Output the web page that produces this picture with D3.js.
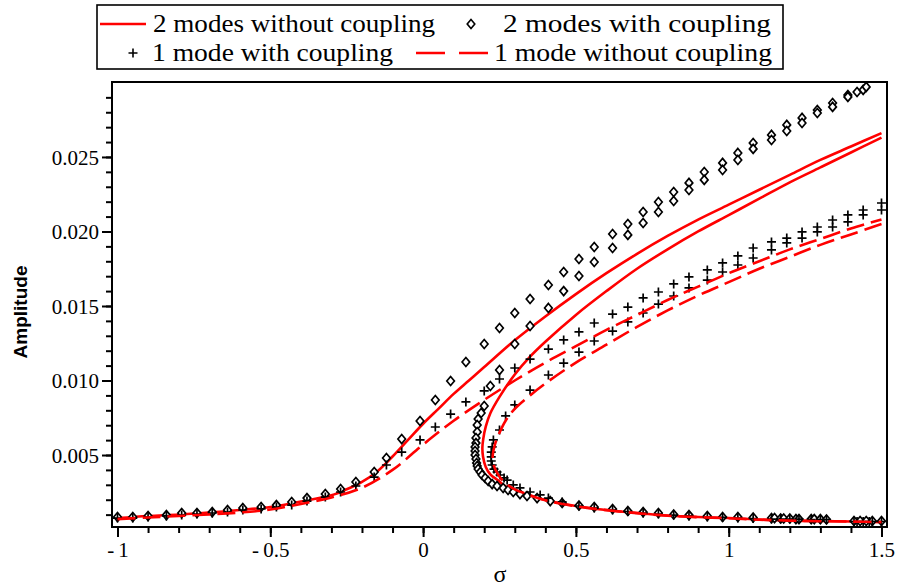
<!DOCTYPE html>
<meta charset="utf-8">
<style>
body { margin: 0; background: white; }
svg { display: block; }
.legend text { font-family: "Liberation Serif", "Times New Roman", serif; font-size: 25px; fill: black; }
</style>
<body>
<script src="https://d3js.org/d3.v7.min.js"></script>
<script>
// each series is a list of [sigma, amplitude]
var solidUpper = [[-1,0.00077],[-0.9,0.00091],[-0.8,0.00101],[-0.7,0.00114],[-0.6,0.00131],[-0.5,0.00151],
  [-0.4,0.00188],[-0.3,0.0023],[-0.25,0.0027],[-0.2,0.0032],[-0.15,0.0039],[-0.1,0.0049],[-0.05,0.0060],
  [0,0.0071],[0.05,0.0081],[0.1,0.0091],[0.15,0.0100],[0.2,0.0109],[0.3,0.0127],[0.4,0.0143],[0.5,0.0158],
  [0.6,0.0172],[0.7,0.0185],[0.8,0.0197],[0.9,0.0208],[1.0,0.0218],[1.1,0.0228],[1.2,0.0238],[1.3,0.0248],
  [1.4,0.0257],[1.5,0.0266]];
var solidLower = [[1.5,0.0263],[1.4,0.0253],[1.3,0.0243],[1.2,0.0233],[1.1,0.0222],[1.0,0.0211],[0.9,0.0200],
  [0.8,0.0188],[0.7,0.0175],[0.6,0.0160],[0.5,0.0144],[0.4,0.0126],[0.35,0.0116],[0.3,0.0104],[0.25,0.0089],
  [0.22,0.0078],[0.205,0.0069],[0.197,0.0061],[0.194,0.0055],[0.196,0.0049],[0.205,0.0042],[0.22,0.0037],
  [0.245,0.0033],[0.27,0.0029],[0.3,0.00265],[0.35,0.00228],[0.4,0.00198],[0.5,0.00158],[0.6,0.00131],
  [0.7,0.00111],[0.8,0.00094],[0.9,0.00084],[1.0,0.00077],[1.1,0.00067],[1.2,0.0006],[1.3,0.00057],[1.4,0.00054],[1.5,0.0005]];
var dashUpper = [[-1,0.0007],[-0.9,0.00081],[-0.8,0.00091],[-0.7,0.00101],[-0.6,0.00114],[-0.5,0.00134],
  [-0.4,0.00172],[-0.3,0.00215],[-0.2,0.0028],[-0.1,0.004],[0,0.0057],[0.1,0.0073],[0.2,0.0087],[0.3,0.0100],
  [0.4,0.0112],[0.5,0.0123],[0.6,0.0134],[0.7,0.0144],[0.8,0.0154],[0.9,0.0163],[1.0,0.0172],[1.1,0.0180],
  [1.2,0.0188],[1.3,0.0195],[1.4,0.0202],[1.5,0.0208]];
var dashLower = [[1.5,0.0205],[1.4,0.0198],[1.3,0.0191],[1.2,0.0183],[1.1,0.0175],[1.0,0.0166],[0.9,0.0157],
  [0.8,0.0147],[0.7,0.0136],[0.6,0.0124],[0.5,0.0112],[0.4,0.0098],[0.35,0.0090],[0.3,0.0081],[0.27,0.0073],
  [0.25,0.0065],[0.235,0.0057],[0.228,0.0050],[0.23,0.0044],[0.245,0.0037],[0.265,0.0032],[0.3,0.0027],
  [0.35,0.0023],[0.4,0.00196],[0.5,0.00156],[0.6,0.0013],[0.7,0.0011],[0.8,0.00093],[0.9,0.00083],[1.0,0.00076],
  [1.1,0.00066],[1.2,0.0006],[1.3,0.00056],[1.4,0.00053],[1.5,0.0005]];
var diamondUpper = [[-1,0.00084],[-0.95,0.00084],[-0.9,0.00091],[-0.84,0.00097],[-0.79,0.00111],[-0.74,0.00111],
  [-0.69,0.00117],[-0.64,0.00131],[-0.59,0.00144],[-0.53,0.00151],[-0.48,0.00164],[-0.43,0.00185],[-0.38,0.00211],
  [-0.32,0.00238],[-0.27,0.00272],[-0.22,0.00319],[-0.16,0.00386],[-0.12,0.0048],[-0.07,0.00607],[-0.01,0.00728],
  [0.04,0.00869],[0.09,0.00997],[0.14,0.01124],[0.2,0.01245],[0.25,0.01352],[0.3,0.01453],[0.35,0.01547],
  [0.41,0.01641],[0.46,0.01728],[0.51,0.01815],[0.56,0.01896],[0.62,0.01983],[0.67,0.0205],[0.72,0.02131],
  [0.77,0.02198],[0.82,0.02265],[0.87,0.02326],[0.92,0.02399],[0.98,0.0246],[1.03,0.02527],[1.08,0.02594],
  [1.14,0.02648],[1.19,0.02715],[1.24,0.02762],[1.29,0.02815],[1.34,0.02862],[1.39,0.02916],[1.42,0.02936],
  [1.44,0.0295],[1.45,0.0297]];
var diamondLower = [[1.39,0.02903],[1.34,0.02836],[1.29,0.02795],[1.24,0.02728],[1.19,0.02674],[1.14,0.02614],
  [1.08,0.02554],[1.03,0.0248],[0.98,0.02413],[0.92,0.02346],[0.87,0.02278],[0.82,0.02205],[0.77,0.02131],
  [0.72,0.02057],[0.67,0.01977],[0.62,0.01889],[0.56,0.01795],[0.51,0.01701],[0.46,0.016],[0.41,0.01487],
  [0.35,0.01366],[0.3,0.01245],[0.25,0.0107],[0.22,0.00963],[0.2,0.00829],[0.19,0.00782],[0.18,0.00742],
  [0.177,0.00701],[0.177,0.00654],[0.173,0.00614],[0.173,0.0058],[0.17,0.00554],[0.17,0.00527],[0.17,0.005],
  [0.173,0.00473],[0.175,0.00446],[0.177,0.00426],[0.18,0.00406],[0.187,0.00386],[0.193,0.00366],[0.203,0.00346],
  [0.213,0.00326],[0.226,0.00305],[0.242,0.00292],[0.262,0.00279],[0.278,0.00265],[0.295,0.00252],[0.317,0.00238],
  [0.34,0.00225],[0.373,0.00211],[0.416,0.00191],[0.455,0.00178],[0.51,0.00161],[0.56,0.00151],[0.62,0.00138],
  [0.67,0.00124],[0.72,0.00117],[0.77,0.00111],[0.82,0.00101],[0.87,0.00097],[0.93,0.00091],[0.98,0.00084],
  [1.03,0.00084],[1.08,0.00081],[1.14,0.00077],[1.15,0.00077],[1.17,0.00074],[1.18,0.00074],[1.2,0.00074],
  [1.22,0.0007],[1.23,0.0007],[1.27,0.0007],[1.28,0.0007],[1.3,0.0007],[1.32,0.00067],[1.41,0.00057],
  [1.43,0.00057],[1.45,0.00057],[1.47,0.00057],[1.5,0.00057]];
var plusUpper = [[-1,0.00077],[-0.95,0.00077],[-0.9,0.00084],[-0.84,0.00091],[-0.79,0.00097],[-0.74,0.00104],
  [-0.69,0.00111],[-0.64,0.00117],[-0.59,0.00131],[-0.53,0.00138],[-0.48,0.00151],[-0.43,0.00164],[-0.38,0.00191],
  [-0.32,0.00218],[-0.27,0.00252],[-0.22,0.00292],[-0.16,0.00352],[-0.12,0.00433],[-0.07,0.0052],[-0.01,0.00601],
  [0.04,0.00688],[0.09,0.00775],[0.14,0.00856],[0.2,0.0093],[0.25,0.0101],[0.3,0.01084],[0.35,0.01144],
  [0.41,0.01211],[0.46,0.01272],[0.51,0.01326],[0.56,0.01386],[0.62,0.01446],[0.67,0.01493],[0.72,0.01554],
  [0.77,0.01594],[0.82,0.01648],[0.87,0.01695],[0.93,0.01742],[0.98,0.01789],[1.03,0.01836],[1.08,0.01889],
  [1.14,0.0193],[1.19,0.01956],[1.24,0.01997],[1.29,0.0203],[1.34,0.02077],[1.39,0.02111],[1.44,0.02144],[1.5,0.02191]];
var plusLower = [[1.5,0.02144],[1.44,0.02111],[1.39,0.02064],[1.34,0.0203],[1.29,0.01997],[1.24,0.01956],
  [1.19,0.01923],[1.14,0.01876],[1.08,0.01822],[1.03,0.01775],[0.98,0.01728],[0.93,0.01674],[0.87,0.01621],
  [0.82,0.01567],[0.77,0.01513],[0.72,0.01453],[0.67,0.01393],[0.62,0.01332],[0.56,0.01265],[0.51,0.01191],
  [0.46,0.01117],[0.41,0.01037],[0.35,0.00936],[0.3,0.00836],[0.27,0.00762],[0.25,0.00668],[0.23,0.00601],
  [0.226,0.00554],[0.223,0.0052],[0.223,0.00487],[0.223,0.0046],[0.226,0.00433],[0.232,0.00406],[0.242,0.00386],
  [0.252,0.00366],[0.265,0.00346],[0.275,0.00332],[0.295,0.00299],[0.317,0.00279],[0.35,0.00252],[0.383,0.00232],
  [0.41,0.00211],[0.455,0.00185],[0.51,0.00158],[0.56,0.00144],[0.62,0.00131],[0.67,0.00121],[0.72,0.00111],
  [0.77,0.00104],[0.82,0.00097],[0.87,0.00091],[0.93,0.00084],[0.98,0.00081],[1.03,0.00077],[1.08,0.00074],
  [1.14,0.0007],[1.17,0.0007],[1.2,0.0007],[1.23,0.0007],[1.27,0.00067],[1.3,0.00067],[1.32,0.00067],
  [1.41,0.00054],[1.42,0.00054],[1.44,0.00054],[1.46,0.00054],[1.47,0.00054],[1.5,0.00054]];

var xTicks = [-1, -0.5, 0, 0.5, 1, 1.5];
var yTicks = [0.005, 0.010, 0.015, 0.020, 0.025];
var legendNames = ["2 modes without coupling", "2 modes with coupling", "1 mode with coupling", "1 mode without coupling"];

var margin = {top: 82, right: 18, bottom: 60, left: 112},
    W = 905, H = 587,
    width = W - margin.left - margin.right,
    height = H - margin.top - margin.bottom;

var x = d3.scaleLinear().domain([-1.018, 1.518]).range([0, width]);
var y = d3.scaleLinear().domain([0.00017, 0.03003]).range([height, 0]);

var svg = d3.select("body").append("svg")
    .attr("width", W)
    .attr("height", H);
var g = svg.append("g")
    .attr("transform", "translate(" + margin.left + "," + margin.top + ")");

function styleAxis(a) {
  a.attr("font-family", "'Liberation Serif', 'Times New Roman', serif").attr("font-size", 21);
  a.select(".domain").remove();
  a.selectAll("line").attr("stroke-width", 2);
  a.selectAll("text").attr("fill", "black");
}

// minor ticks first, then the labelled ones
g.append("g")
    .attr("transform", "translate(0," + height + ")")
    .call(d3.axisBottom(x).tickValues(d3.range(-10, 16).map(function(i) { return i / 10; }))
      .tickSize(6).tickSizeOuter(0).tickFormat(""))
    .call(styleAxis);
g.append("g")
    .attr("transform", "translate(0," + height + ")")
    .call(d3.axisBottom(x).tickValues(xTicks).tickSize(10).tickSizeOuter(0)
      .tickFormat(function(d) { return d < 0 ? "-\u2009" + Math.abs(d) : String(d); }))
    .call(styleAxis)
    .call(function(a) { a.selectAll("text").attr("y", 15); });

g.append("g")
    .call(d3.axisLeft(y).tickValues(d3.range(1, 30).map(function(i) { return i / 1000; }))
      .tickSize(6).tickSizeOuter(0).tickFormat(""))
    .call(styleAxis);
g.append("g")
    .call(d3.axisLeft(y).tickValues(yTicks).tickSize(10).tickSizeOuter(0).tickFormat(d3.format(".3f")))
    .call(styleAxis)
    .call(function(a) { a.selectAll("text").attr("x", -13).attr("dy", "0.35em"); });

g.append("rect")
    .attr("width", width)
    .attr("height", height)
    .attr("fill", "none")
    .attr("stroke", "black")
    .attr("stroke-width", 2);

var plot = g.append("g");
var line = d3.line()
    .x(function(d) { return x(d[0]); })
    .y(function(d) { return y(d[1]); })
    .curve(d3.curveCatmullRom.alpha(0.5));

var diamondPath = "M0,-4.5L3.8,0L0,4.5L-3.8,0Z";
var plusPath = "M-4.5,0H4.5M0,-4.5V4.5";

function drawLine(data, dashed) {
  plot.append("path")
      .datum(data)
      .attr("d", line)
      .attr("fill", "none")
      .attr("stroke", "#ff0000")
      .attr("stroke-width", 2.6)
      .attr("stroke-dasharray", dashed ? "18,7" : null);
}
function drawMarks(data, shape, fill) {
  plot.append("g").selectAll("path")
      .data(data)
      .enter().append("path")
      .attr("transform", function(d) { return "translate(" + x(d[0]) + "," + y(d[1]) + ")"; })
      .attr("d", shape)
      .attr("fill", fill)
      .attr("stroke", "black")
      .attr("stroke-width", 1.7);
}

drawLine(solidUpper, false);
drawLine(solidLower, false);
drawMarks(diamondUpper, diamondPath, "white");
drawMarks(diamondLower, diamondPath, "white");
drawMarks(plusUpper, plusPath, "none");
drawMarks(plusLower, plusPath, "none");
drawLine(dashUpper, true);
drawLine(dashLower, true);

// axis titles
svg.append("text")
    .attr("transform", "translate(27," + 312 + ") rotate(-90)")
    .attr("text-anchor", "middle")
    .style("font-family", "'Liberation Sans', Arial, sans-serif")
    .style("font-weight", "bold")
    .style("font-size", "19px")
    .text("Amplitude");
svg.append("text")
    .attr("x", 500)
    .attr("y", 582)
    .attr("text-anchor", "middle")
    .style("font-family", "'Liberation Serif', serif")
    .style("font-size", "24px")
    .text("σ");

// legend
var legend = svg.append("g").attr("class", "legend");
legend.append("rect")
    .attr("x", 97).attr("y", 5)
    .attr("width", 686).attr("height", 64)
    .attr("fill", "white").attr("stroke", "black").attr("stroke-width", 1.6);

var items = [
  {name: legendNames[0], kind: "solid", sx: 100, tx: 153, row: 0, len: 282},
  {name: legendNames[1], kind: "diamond", sx: 471, tx: 503, row: 0, len: 268},
  {name: legendNames[2], kind: "plus", sx: 133, tx: 152, row: 1, len: 241},
  {name: legendNames[3], kind: "dash", sx: 416, tx: 494, row: 1, len: 278}
];
items.forEach(function(d) {
  var cy = d.row === 0 ? 24 : 53;
  if (d.kind === "solid") {
    legend.append("line").attr("x1", d.sx).attr("x2", d.sx + 46).attr("y1", cy).attr("y2", cy)
      .attr("stroke", "#ff0000").attr("stroke-width", 2.6);
  } else if (d.kind === "dash") {
    legend.append("line").attr("x1", d.sx).attr("x2", d.sx + 72).attr("y1", cy).attr("y2", cy)
      .attr("stroke", "#ff0000").attr("stroke-width", 2.6).attr("stroke-dasharray", "29,14");
  } else {
    legend.append("path").attr("transform", "translate(" + d.sx + "," + cy + ")")
      .attr("d", d.kind === "diamond" ? diamondPath : plusPath)
      .attr("fill", d.kind === "diamond" ? "white" : "none")
      .attr("stroke", "black").attr("stroke-width", 1.6);
  }
  legend.append("text")
      .attr("x", d.tx).attr("y", cy + 8)
      .attr("textLength", d.len)
      .attr("lengthAdjust", "spacingAndGlyphs")
      .text(d.name);
});
</script>
</body>
